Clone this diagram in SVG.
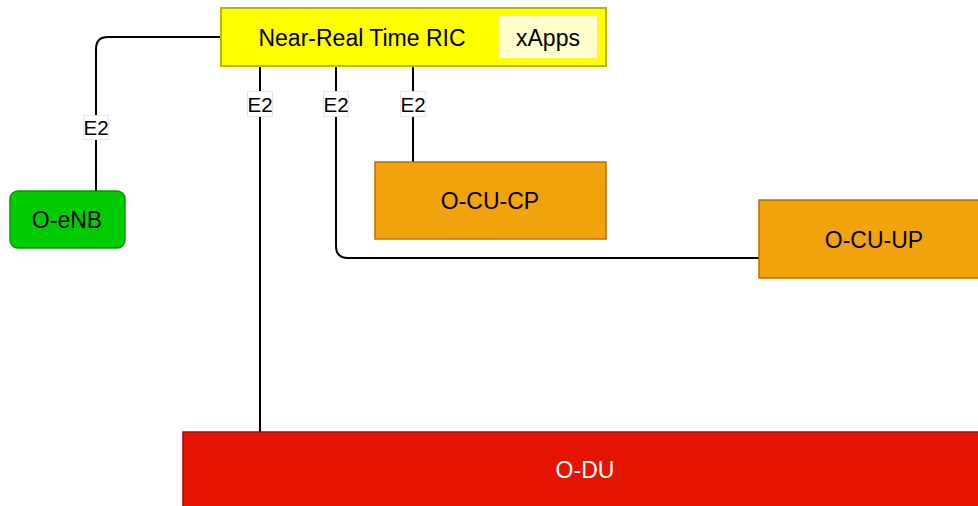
<svg xmlns="http://www.w3.org/2000/svg" width="978" height="506" viewBox="0 0 978 506">
<style>
text{font-family:"Liberation Sans",Arial,sans-serif;text-anchor:middle;dominant-baseline:central}
.n{font-size:23px;fill:#000}
.lbl{font-size:20.5px;fill:#000}
.lb{fill:#fff;stroke:#e6e6e6;stroke-width:1}
.c{fill:none;stroke:#000;stroke-width:2}
</style>
<rect width="978" height="506" fill="#fff"/>
<g id="connectors">
<path class="c" d="M96,191 V49 Q96,37 108,37 H221"/>
<path class="c" d="M260,66 V432"/>
<path class="c" d="M336,66 V246 Q336,258 348,258 H759"/>
<path class="c" d="M413,66 V162"/>
<rect class="lb" x="83.5" y="115.5" width="25" height="24"/>
<text class="lbl" x="96" y="127">E2</text>
<rect class="lb" x="247.5" y="91.5" width="25" height="25"/>
<text class="lbl" x="260" y="104">E2</text>
<rect class="lb" x="323.5" y="91.5" width="25" height="25"/>
<text class="lbl" x="336" y="104">E2</text>
<rect class="lb" x="400.5" y="91.5" width="25" height="25"/>
<text class="lbl" x="413" y="104">E2</text>
</g>
<g id="ric">
<rect x="221" y="8" width="385" height="58" fill="#ffff00" stroke="#b8b800" stroke-width="2"/>
<text class="n" x="362" y="38">Near-Real Time RIC</text>
</g>
<g id="xapps">
<rect x="500" y="17" width="96" height="40" fill="#ffffcc" stroke="#ffffe8" stroke-width="2"/>
<text class="n" x="548" y="38">xApps</text>
</g>
<g id="oenb">
<rect x="10" y="191" width="115" height="57" rx="8" fill="#00cc00" stroke="#009900" stroke-width="1.5"/>
<text class="n" x="67" y="220">O-eNB</text>
</g>
<g id="ocucp">
<rect x="375" y="162" width="231" height="77" fill="#f0a30a" stroke="#bd7000" stroke-width="1.5"/>
<text class="n" x="490" y="201">O-CU-CP</text>
</g>
<g id="ocuup">
<rect x="759" y="200" width="231" height="78" fill="#f0a30a" stroke="#bd7000" stroke-width="1.5"/>
<text class="n" x="874" y="240">O-CU-UP</text>
</g>
<g id="odu">
<rect x="183" y="432" width="806" height="80" fill="#e51400" stroke="#b20000" stroke-width="1.5"/>
<text class="n" x="585" y="470" style="fill:#fff">O-DU</text>
</g>
</svg>
